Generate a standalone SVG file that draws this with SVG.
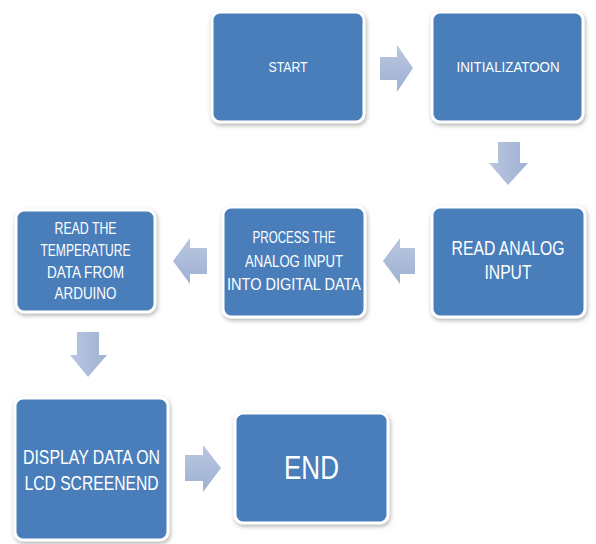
<svg xmlns="http://www.w3.org/2000/svg" width="596" height="544" viewBox="0 0 596 544">
<defs>
<filter id="sh" x="-10%" y="-10%" width="125%" height="130%">
<feDropShadow dx="1" dy="2" stdDeviation="2" flood-color="#7f7f7f" flood-opacity="0.6"/>
</filter>
<linearGradient id="ag" x1="0" y1="0" x2="0" y2="1">
<stop offset="0" stop-color="#b9c6df"/>
<stop offset="1" stop-color="#9fb1d3"/>
</linearGradient>
<linearGradient id="agh" x1="0" y1="0" x2="1" y2="0">
<stop offset="0" stop-color="#b9c6df"/>
<stop offset="1" stop-color="#9fb1d3"/>
</linearGradient>
</defs>
<style>
.box{fill:#4a7ebb;stroke:#ffffff;stroke-width:3;filter:url(#sh)}
.t{fill:#ffffff;font-family:"Liberation Sans",Arial,sans-serif;text-anchor:middle}
.arr{stroke:none}
</style>
<rect width="596" height="544" fill="#ffffff"/>
<g id="connectors">
<polygon class="arr" fill="url(#ag)" points="380,57 397,57 397,45 413,68 397,92 397,80 380,80"/>
<polygon class="arr" fill="url(#agh)" points="498,142 520,142 520,163 528,163 508,185 489,163 498,163"/>
<polygon class="arr" fill="url(#ag)" points="415,248 400,248 400,238 383,261 400,284 400,274 415,274"/>
<polygon class="arr" fill="url(#ag)" points="207,248 190,248 190,238 173,261 190,284 190,274 207,274"/>
<polygon class="arr" fill="url(#agh)" points="77,332 99,332 99,355 107,355 88,377 70,355 77,355"/>
<polygon class="arr" fill="url(#ag)" points="185,455 203,455 203,445 221,468 203,492 203,481 185,481"/>
</g>
<g id="start">
<rect class="box" x="212" y="12" width="152" height="110" rx="8"/>
<text class="t" x="288" y="72" font-size="14" textLength="39" lengthAdjust="spacingAndGlyphs">START</text>
</g>
<g id="init">
<rect class="box" x="432" y="12" width="151" height="110" rx="8"/>
<text class="t" x="508" y="72" font-size="14" textLength="103" lengthAdjust="spacingAndGlyphs">INITIALIZATOON</text>
</g>
<g id="read-analog">
<rect class="box" x="432" y="207" width="153" height="110" rx="8"/>
<text class="t" font-size="20"><tspan x="508" y="255" textLength="113" lengthAdjust="spacingAndGlyphs">READ ANALOG</tspan><tspan x="508" y="279" textLength="47" lengthAdjust="spacingAndGlyphs">INPUT</tspan></text>
</g>
<g id="process">
<rect class="box" x="223" y="207" width="142" height="110" rx="8"/>
<text class="t" font-size="16"><tspan x="294" y="243" textLength="83" lengthAdjust="spacingAndGlyphs">PROCESS THE</tspan><tspan x="294" y="267" textLength="98" lengthAdjust="spacingAndGlyphs">ANALOG INPUT</tspan><tspan x="294" y="290" textLength="134" lengthAdjust="spacingAndGlyphs">INTO DIGITAL  DATA</tspan></text>
</g>
<g id="read-temp">
<rect class="box" x="16" y="210" width="139" height="102" rx="8"/>
<text class="t" font-size="16"><tspan x="85.5" y="234" textLength="62" lengthAdjust="spacingAndGlyphs">READ THE</tspan><tspan x="85.5" y="256" textLength="90" lengthAdjust="spacingAndGlyphs">TEMPERATURE</tspan><tspan x="85.5" y="277.5" textLength="77" lengthAdjust="spacingAndGlyphs">DATA FROM</tspan><tspan x="85.5" y="299" textLength="62" lengthAdjust="spacingAndGlyphs">ARDUINO</tspan></text>
</g>
<g id="display">
<rect class="box" x="15" y="398" width="153" height="142" rx="8"/>
<text class="t" font-size="21"><tspan x="91.5" y="464" textLength="137" lengthAdjust="spacingAndGlyphs">DISPLAY DATA ON</tspan><tspan x="91.5" y="490" textLength="134" lengthAdjust="spacingAndGlyphs">LCD SCREENEND</tspan></text>
</g>
<g id="end">
<rect class="box" x="235" y="413" width="153" height="110" rx="8"/>
<text class="t" x="311.5" y="479" font-size="33" textLength="55" lengthAdjust="spacingAndGlyphs">END</text>
</g>
</svg>
